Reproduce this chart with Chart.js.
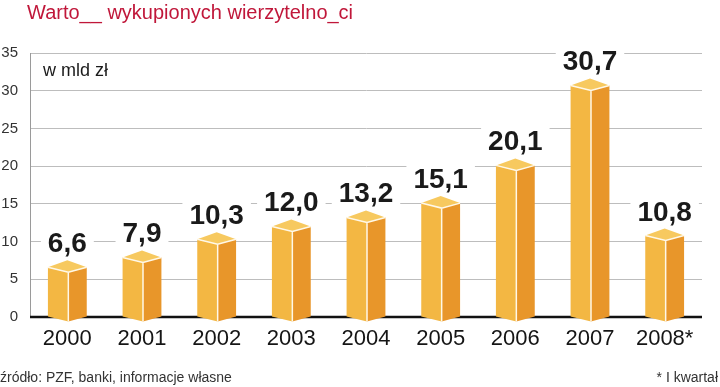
<!DOCTYPE html>
<html>
<head>
<meta charset="utf-8">
<script src="https://cdn.jsdelivr.net/npm/chart.js@4"></script>
<style>
  html, body { margin: 0; padding: 0; background: #fff; }
  #wrap { width: 720px; height: 387px; position: relative; }
</style>
</head>
<body>
<div id="wrap"><canvas id="myChart" width="720" height="387"></canvas></div>
<script>
// wartość wykupionych wierzytelności, w mld zł
const years = ['2000', '2001', '2002', '2003', '2004', '2005', '2006', '2007', '2008*'];
const values = [6.6, 7.9, 10.3, 12.0, 13.2, 15.1, 20.1, 30.7, 10.8];
const yTicks = [0, 5, 10, 15, 20, 25, 30, 35];

const titleText = 'Warto__ wykupionych wierzytelno_ci';
const unitText = 'w mld zł';
const sourceText = 'źródło: PZF, banki, informacje własne';
const noteText = '* I kwartał';

const FONT = '"Liberation Sans", Arial, sans-serif';

// black zero line, drawn by hand so it stops at the chart area
const zeroLine = {
    id: 'zeroLine',
    beforeDatasetsDraw(chart) {
        const ctx = chart.ctx;
        const y0 = chart.scales.y.getPixelForValue(0);
        ctx.save();
        ctx.strokeStyle = '#111';
        ctx.lineWidth = 2.5;
        ctx.beginPath();
        ctx.moveTo(chart.chartArea.left, y0);
        ctx.lineTo(chart.chartArea.right, y0);
        ctx.stroke();
        ctx.restore();
    }
};

// draws the bars as little boxes + value labels + the texts around
const boxBars = {
    id: 'boxBars',
    afterDatasetsDraw(chart) {
        const ctx = chart.ctx;
        const meta = chart.getDatasetMeta(0);
        ctx.save();
        meta.data.forEach((bar, i) => {
            const half = bar.width / 2;
            const xl = bar.x - half;
            const xr = bar.x + half;
            const xm = bar.x + 1;
            const yt = bar.y;
            const yb = bar.base;
            const d = 5;   // drop of the front corner
            const up = 7;  // rise of the back corner

            // left (front) face
            ctx.beginPath();
            ctx.moveTo(xl, yt);
            ctx.lineTo(xm, yt + d);
            ctx.lineTo(xm, yb + d);
            ctx.lineTo(xl, yb);
            ctx.closePath();
            ctx.fillStyle = '#f3b743';
            ctx.fill();

            // right face
            ctx.beginPath();
            ctx.moveTo(xm, yt + d);
            ctx.lineTo(xr, yt);
            ctx.lineTo(xr, yb);
            ctx.lineTo(xm, yb + d);
            ctx.closePath();
            ctx.fillStyle = '#e8962a';
            ctx.fill();

            // top
            ctx.beginPath();
            ctx.moveTo(xl, yt);
            ctx.lineTo(bar.x, yt - up);
            ctx.lineTo(xr, yt);
            ctx.lineTo(xm, yt + d);
            ctx.closePath();
            ctx.fillStyle = '#f7c95f';
            ctx.fill();

            // white edges
            ctx.strokeStyle = '#fff8e8';
            ctx.lineWidth = 1.5;
            ctx.beginPath();
            ctx.moveTo(xl, yt);
            ctx.lineTo(xm, yt + d);
            ctx.lineTo(xr, yt);
            ctx.moveTo(xm, yt + d);
            ctx.lineTo(xm, yb + d);
            ctx.stroke();

            // value label with white box behind it
            const label = values[i].toFixed(1).replace('.', ',');
            ctx.font = 'bold 28px ' + FONT;
            const w = ctx.measureText(label).width;
            const base = yt - 15;
            ctx.fillStyle = '#fff';
            ctx.fillRect(bar.x - w / 2 - 7, base - 25, w + 14, 30);
            ctx.fillStyle = '#1a1a1a';
            ctx.textAlign = 'center';
            ctx.textBaseline = 'alphabetic';
            ctx.fillText(label, bar.x, base);
        });

        // title, unit and footer
        ctx.textAlign = 'left';
        ctx.textBaseline = 'alphabetic';
        ctx.fillStyle = '#c0173a';
        ctx.font = '20px ' + FONT;
        ctx.fillText(titleText, 27, 19);

        ctx.fillStyle = '#1a1a1a';
        ctx.font = '18px ' + FONT;
        ctx.fillText(unitText, 43, 76);

        ctx.fillStyle = '#333';
        ctx.font = '14px ' + FONT;
        ctx.fillText(sourceText, 0, 382);
        ctx.textAlign = 'right';
        ctx.fillText(noteText, 718, 382);
        ctx.restore();
    }
};

const ctx = document.getElementById('myChart').getContext('2d');
const myChart = new Chart(ctx, {
    type: 'bar',
    data: {
        labels: years,
        datasets: [{
            label: 'mld zł',
            data: values,
            backgroundColor: 'rgba(0,0,0,0)',
            borderWidth: 0,
            barPercentage: 0.52,
            categoryPercentage: 1.0
        }]
    },
    options: {
        responsive: false,
        animation: false,
        layout: { padding: { top: 53, right: 18, left: 0, bottom: 0 } },
        plugins: {
            legend: { display: false },
            tooltip: { enabled: false }
        },
        scales: {
            x: {
                grid: { display: false, drawTicks: false },
                border: { display: false },
                ticks: {
                    color: '#151515',
                    font: { family: FONT, size: 22 },
                    padding: 9,
                    maxRotation: 0
                },
                afterFit(scale) { scale.height = 70; }
            },
            y: {
                min: 0,
                max: 35,
                afterBuildTicks(scale) { scale.ticks = yTicks.map(v => ({ value: v })); },
                grid: {
                    drawTicks: false,
                    color: ctx => ctx.tick && ctx.tick.value === 0 ? 'rgba(0,0,0,0)' : '#bdbdbd',
                    lineWidth: 1
                },
                border: { display: true, color: '#9a9a9a', width: 1 },
                ticks: {
                    color: '#333',
                    font: { family: FONT, size: 15 },
                    padding: 12
                },
                afterFit(scale) { scale.width = 30; }
            }
        }
    },
    plugins: [zeroLine, boxBars]
});
</script>
</body>
</html>
